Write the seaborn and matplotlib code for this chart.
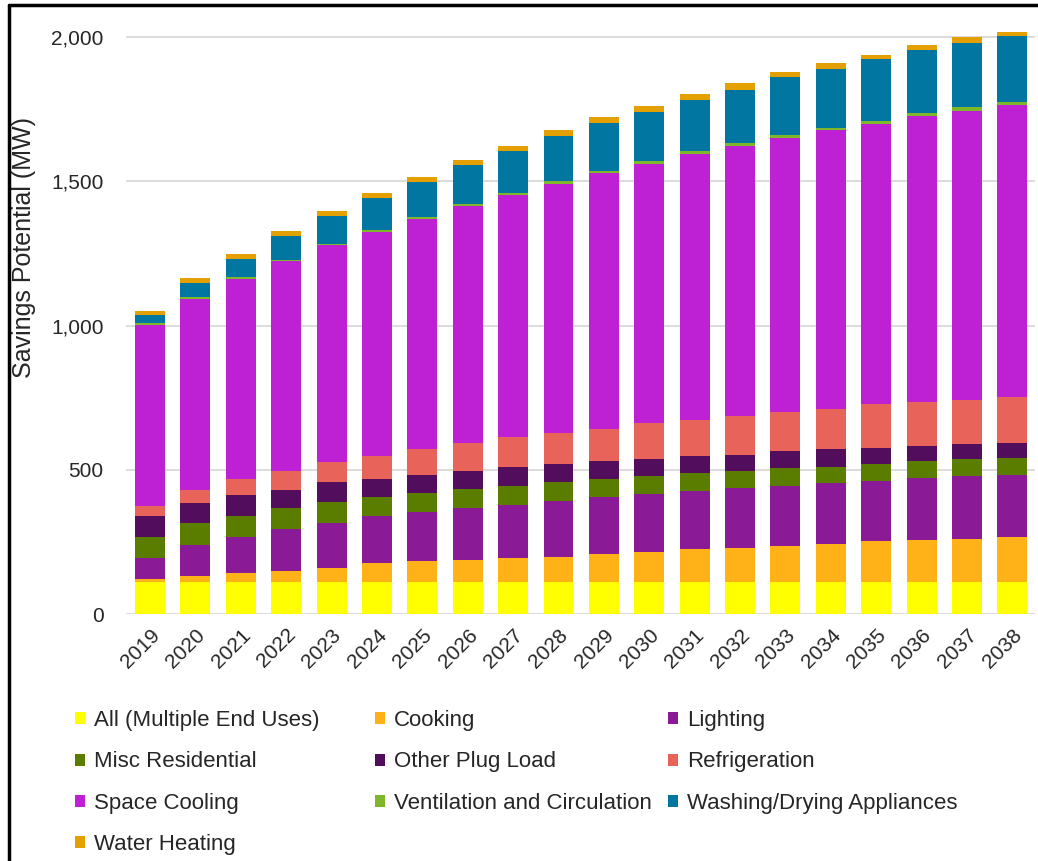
import matplotlib
matplotlib.use("Agg")
import matplotlib.pyplot as plt
from matplotlib.patches import Patch
from matplotlib.lines import Line2D
from matplotlib.ticker import FuncFormatter
import seaborn as sns
import pandas as pd

# Savings potential by end use (MW), one value per year
years = [2019, 2020, 2021, 2022, 2023, 2024, 2025, 2026, 2027, 2028,
         2029, 2030, 2031, 2032, 2033, 2034, 2035, 2036, 2037, 2038]

all_end_uses = [110, 110, 110, 110, 110, 110, 110, 110, 110, 110,
                110, 110, 110, 110, 110, 110, 110, 110, 110, 110]
cooking = [12, 23, 33, 40, 48, 66, 72, 77, 85, 89,
           98, 106, 114, 120, 127, 133, 143, 147, 150, 158]
lighting = [71, 106, 125, 145, 157, 162, 171, 180, 183, 194,
            197, 199, 204, 206, 207, 210, 209, 214, 217, 214]
misc_residential = [75, 76, 72, 73, 73, 67, 68, 66, 66, 66,
                    62, 62, 60, 61, 61, 58, 57, 58, 60, 58]
other_plug_load = [70, 69, 73, 62, 68, 63, 60, 64, 64, 60,
                   65, 61, 58, 55, 61, 62, 58, 55, 52, 54]
refrigeration = [37, 46, 54, 67, 71, 78, 92, 95, 104, 108,
                 109, 124, 127, 136, 134, 137, 151, 151, 154, 157]
space_cooling = [628, 663, 694, 725, 751, 778, 797, 821, 841, 865,
                 888, 899, 923, 934, 951, 966, 972, 990, 1002, 1014]
ventilation = [5, 5, 6, 6, 6, 7, 7, 7, 8, 8,
               8, 9, 9, 9, 9, 10, 10, 10, 11, 11]
washing_drying = [29, 48, 63, 81, 94, 111, 120, 137, 145, 157,
                  165, 171, 178, 187, 200, 203, 213, 221, 223, 228]
water_heating = [14, 20, 18, 18, 19, 17, 18, 15, 17, 21,
                 20, 21, 20, 21, 20, 20, 15, 15, 20, 15]

end_uses = ["All (Multiple End Uses)", "Cooking", "Lighting",
            "Misc Residential", "Other Plug Load", "Refrigeration",
            "Space Cooling", "Ventilation and Circulation",
            "Washing/Drying Appliances", "Water Heating"]
series = [all_end_uses, cooking, lighting, misc_residential, other_plug_load,
          refrigeration, space_cooling, ventilation, washing_drying,
          water_heating]
colors = ["#FFFF00", "#FFB218", "#8B1A96", "#5A7D00", "#520E5C",
          "#E8645A", "#BE21D3", "#7FB72A", "#0076A0", "#E3A000"]

df = pd.DataFrame({
    "year": [y for _ in end_uses for y in years],
    "end_use": [name for name in end_uses for _ in years],
    "mw": [v for s in series for v in s],
})
palette = dict(zip(end_uses, colors))

sns.set_theme(style="white")
plt.rcParams["font.family"] = ["Liberation Sans", "DejaVu Sans"]
text_color = "#262626"

W, H = 1038, 861
fig = plt.figure(figsize=(W / 100, H / 100), dpi=100)
ax_left, ax_right, ax_bottom, ax_top = 126, 1035, 614, 22.6
ax = fig.add_axes([ax_left / W, 1 - ax_bottom / H,
                   (ax_right - ax_left) / W, (ax_bottom - ax_top) / H])

# stacked bars; the last hue level sits at the bottom of the stack
sns.histplot(data=df, x="year", weights="mw", hue="end_use",
             hue_order=end_uses[::-1], palette=palette, multiple="stack",
             discrete=True, shrink=0.66, alpha=1, linewidth=0,
             legend=False, ax=ax, zorder=3)

ax.set_xlim(years[0] - 0.53, years[-1] + 0.5)
ax.set_ylim(0, 2050)
ax.set_yticks([0, 500, 1000, 1500, 2000])
ax.yaxis.set_major_formatter(FuncFormatter(lambda v, p: f"{int(v):,}"))
ax.set_xticks(years)
ax.set_xticklabels([str(y) for y in years], rotation=45, ha="right",
                   rotation_mode="anchor", fontsize=15, color=text_color)
ax.tick_params(axis="y", labelsize=15, labelcolor=text_color, length=0, pad=16)
ax.tick_params(axis="x", length=0, pad=8)
ax.grid(axis="y", color="#d9d9d9", linewidth=1.3, zorder=0)
ax.set_axisbelow(True)
for side in ["top", "right", "left", "bottom"]:
    ax.spines[side].set_visible(False)

ax.set_xlabel("")
ax.set_ylabel("Savings Potential (MW)", fontsize=18, color=text_color)
ax.yaxis.set_label_coords((36 - ax_left) / (ax_right - ax_left),
                          (ax_bottom - 248) / (ax_bottom - ax_top))

# legend laid out in three columns
columns = [[0, 3, 6, 9], [1, 4, 7], [2, 5, 8]]
col_x = [75, 375, 668]
for cx, idx in zip(col_x, columns):
    handles = [Patch(facecolor=colors[i], edgecolor="none", label=end_uses[i])
               for i in idx]
    fig.legend(handles=handles, loc="upper left",
               bbox_to_anchor=(cx / W, 1 - 710 / H), frameon=False,
               fontsize=16, handlelength=0.45, handleheight=0.45,
               handletextpad=0.4, borderpad=0, borderaxespad=0,
               labelspacing=0.92, labelcolor=text_color)

# frame lines along the left and top edges
fig.add_artist(Line2D([9 / W, 9 / W], [0, 1 - 5 / H], color="black",
                      linewidth=2.5, transform=fig.transFigure))
fig.add_artist(Line2D([9 / W, 1], [1 - 5 / H, 1 - 5 / H], color="black",
                      linewidth=2.5, transform=fig.transFigure))

fig.savefig("out.png", dpi=100, facecolor="white")
